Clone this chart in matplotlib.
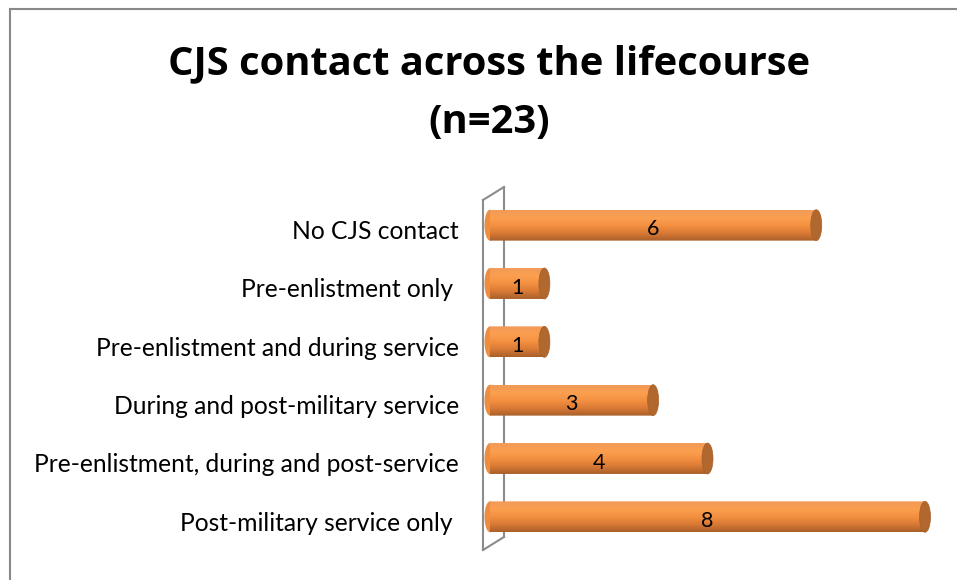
import matplotlib
matplotlib.use("Agg")
import matplotlib.pyplot as plt
import numpy as np
from matplotlib.patches import Ellipse, FancyBboxPatch
from matplotlib.colors import LinearSegmentedColormap
from matplotlib.lines import Line2D

categories = ["No CJS contact", "Pre-enlistment only ", "Pre-enlistment and during service",
              "During and post-military service", "Pre-enlistment, during and post-service",
              "Post-military service only "]
values = [6, 1, 1, 3, 4, 8]
title = "CJS contact across the lifecourse\n(n=23)"

W, H = 957, 580
fig = plt.figure(figsize=(W / 100, H / 100), dpi=100)

fig.add_artist(Line2D([10 / W, 10 / W], [0, 1 - 9 / H], color="#888888", lw=1.5))
fig.add_artist(Line2D([10 / W, 1], [1 - 9 / H, 1 - 9 / H], color="#888888", lw=1.5))

fig.text(489 / W, 1 - 93 / H, title, ha="center", va="center", fontsize=28.7,
         fontweight="bold", family="Open Sans", linespacing=1.65)

x0, x1 = 490, 925
y_top, y_bot = 196, 546
ax = fig.add_axes([x0 / W, 1 - y_bot / H, (x1 - x0) / W, (y_bot - y_top) / H])
ax.set_xlim(0, 8)
n = len(categories)
ax.set_ylim(n - 0.5, -0.5)
ax.axis("off")

ppx = (x1 - x0) / 8.0
ppy = (y_bot - y_top) / n
def dx(px): return px / ppx
def dy(px): return px / ppy
wall_col = "#8c8c8c"
xl, xr = dx(-7), dx(14)
ax.plot([xl, xl], [dy(4) - 0.5, n - 0.5 + dy(4)], color=wall_col, lw=1.5, clip_on=False)
ax.plot([xr, xr], [dy(-9) - 0.5, n - 0.5 - dy(9)], color=wall_col, lw=1.5, clip_on=False)
ax.plot([xl, xr], [dy(4) - 0.5, dy(-9) - 0.5], color=wall_col, lw=1.5, clip_on=False)
ax.plot([xl, xr], [n - 0.5 + dy(4), n - 0.5 - dy(9)], color=wall_col, lw=1.5, clip_on=False)

cmap = LinearSegmentedColormap.from_list("cyl", ["#f19a58", "#fba050", "#f39040", "#d97a35", "#a95f2a"])
grad = np.linspace(0, 1, 64).reshape(-1, 1)
bh = 0.53
capw = dx(11)
for i, v in enumerate(values):
    yb, yt = i - bh / 2, i + bh / 2
    im = ax.imshow(grad, extent=[0, v, yt, yb], cmap=cmap, aspect="auto",
                   interpolation="bicubic", zorder=2, origin="upper")
    clip = FancyBboxPatch((0, yb), v, bh, boxstyle="round,pad=0,rounding_size=0.001",
                          transform=ax.transData, facecolor="none", edgecolor="none")
    ax.add_patch(clip)
    im.set_clip_path(clip)
    ax.add_patch(Ellipse((0, i), capw, bh, facecolor="#ec8d42", edgecolor="none",
                         zorder=1.9, clip_on=False))
    ax.add_patch(Ellipse((v, i), capw, bh, facecolor="#b0682f", edgecolor="#a85f2a",
                         lw=0.5, zorder=3, clip_on=False))
    ax.text(v / 2, i + 0.07, str(v), ha="center", va="center", fontsize=15.5,
            family="Lato", color="black", zorder=4)
    ax.text(dx(-31), i + 0.11, categories[i], ha="right", va="center", fontsize=17.7,
            family="Lato", color="black", clip_on=False)

ax.set_xlim(0, 8)
ax.set_ylim(n - 0.5, -0.5)
fig.savefig("out.png", dpi=100, facecolor="white")
